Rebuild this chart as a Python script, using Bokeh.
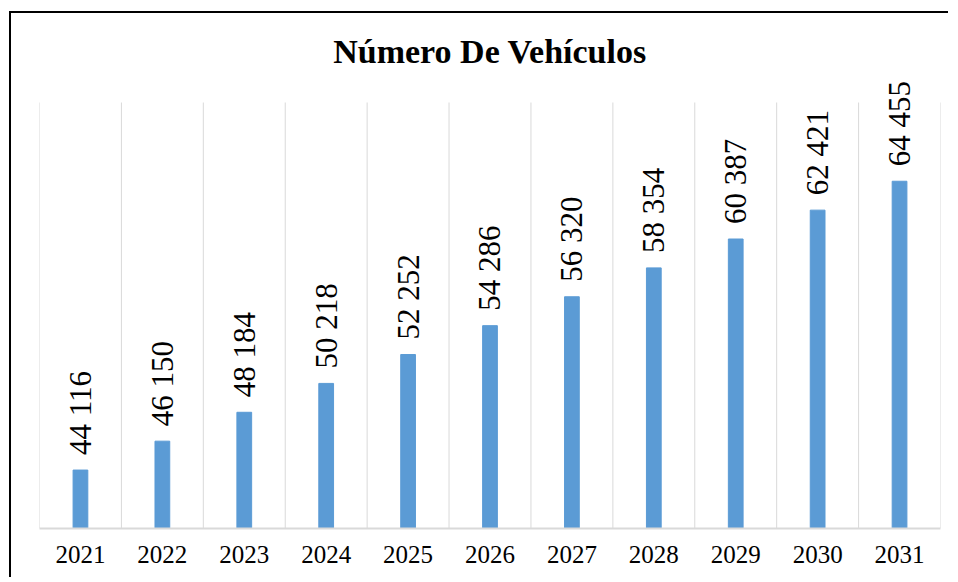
from math import pi
from bokeh.plotting import figure
from bokeh.models import Range1d, FactorRange, ColumnDataSource, LabelSet
from bokeh.core.properties import value
from bokeh.embed import file_html
from bokeh.resources import INLINE

years = ["2021", "2022", "2023", "2024", "2025", "2026", "2027", "2028", "2029", "2030", "2031"]
vehicles = [44116, 46150, 48184, 50218, 52252, 54286, 56320, 58354, 60387, 62421, 64455]
labels = [f"{v:,}".replace(",", " ") for v in vehicles]
title_text = "Número De Vehículos"

# value axis (hidden): 40 000 .. 70 000, with extra head-room above for the labels
Y_MIN, Y_MAX = 40000, 70000
Y_HEADROOM = 2254

SERIF = "Liberation Serif"

src = ColumnDataSource(dict(year=years, n=vehicles, label=labels))

# category boundaries (vertical separators)
bx = [(y, -0.5) for y in years] + [(years[-1], 0.5)]
grid_src = ColumnDataSource(dict(x=bx, y0=[Y_MIN] * len(bx), y1=[Y_MAX] * len(bx)))

p = figure(
    x_range=FactorRange(*years, range_padding=0),
    y_range=Range1d(Y_MIN, Y_MAX + Y_HEADROOM),
    width=939, height=566,
    output_backend="svg", toolbar_location=None,
    min_border_left=28, min_border_right=10, min_border_top=57, min_border_bottom=51,
    styles={"border-top": "2px solid #000", "border-left": "2px solid #000",
            "margin-left": "9px", "margin-top": "11px"},
)

p.title.text = title_text
p.title.align = "center"
p.title.text_font = SERIF
p.title.text_font_size = "34px"
p.title.text_font_style = "bold"
p.title.text_color = "#000000"
p.title.standoff = 2

p.segment(x0="x", y0="y0", x1="x", y1="y1", source=grid_src,
          line_color="#D9D9D9", line_width=1)

p.vbar(x="year", top="n", bottom=Y_MIN, width=0.18, source=src,
       fill_color="#5B9BD5", line_color="#5B9BD5")

value_labels = LabelSet(x="year", y="n", text="label", source=src, angle=pi / 2,
                        text_align="left", text_baseline="middle", y_offset=15,
                        text_font=value(SERIF), text_font_size=value("31px"),
                        text_color="#000000")
p.add_layout(value_labels)

p.outline_line_color = None
p.yaxis.visible = False
p.ygrid.visible = False
p.xgrid.visible = False

ax = p.xaxis[0]
ax.axis_line_color = "#D9D9D9"
ax.axis_line_width = 2
ax.major_tick_line_color = None
ax.minor_tick_line_color = None
ax.major_label_text_font = SERIF
ax.major_label_text_font_size = "25px"
ax.major_label_text_color = "#000000"
ax.major_label_standoff = 11

open("out.html", "w").write(file_html(p, INLINE))
